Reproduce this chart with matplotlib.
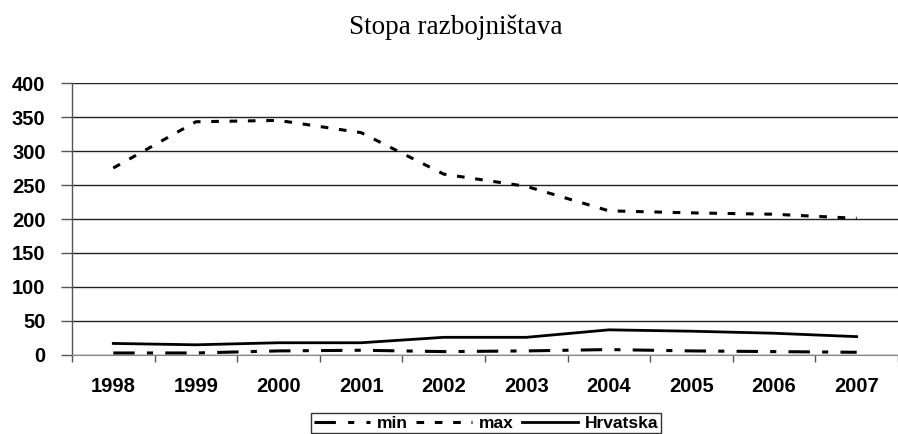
import matplotlib
matplotlib.use("Agg")
import matplotlib.pyplot as plt
from matplotlib.ticker import FixedLocator

years = ["1998", "1999", "2000", "2001", "2002", "2003", "2004", "2005", "2006", "2007"]
min_vals = [3, 3, 6, 7, 5, 6, 8, 6, 5, 4]
max_vals = [275, 343, 345, 327, 266, 248, 212, 209, 207, 201]
hrv_vals = [17, 15, 18, 18, 26, 26, 37, 35, 32, 27]
y_ticks = [0, 50, 100, 150, 200, 250, 300, 350, 400]

fig = plt.figure(figsize=(8.98, 4.34), dpi=100)
ax = fig.add_axes([72/898, (434-355)/434, (898-72)/898, (355-83)/434])

x = list(range(len(years)))
ax.plot(x, min_vals, color="black", lw=2.2, dashes=(7, 4, 2, 4), label="min")
ax.plot(x, max_vals, color="black", lw=2.2, dashes=(2.5, 3.5), label="max")
ax.plot(x, hrv_vals, color="black", lw=2.0, label="Hrvatska")

ax.set_xlim(-0.5, len(years) - 0.5)
ax.set_ylim(0, 400)
ax.set_yticks(y_ticks)
ax.set_yticklabels([str(v) for v in y_ticks], fontfamily="Liberation Sans",
                   fontweight="bold", fontsize=14.5)
ax.set_xticks(x)
ax.set_xticklabels(years, fontfamily="Liberation Sans", fontweight="bold", fontsize=14.5)
ax.xaxis.set_minor_locator(FixedLocator([i - 0.5 for i in range(len(years) + 1)]))
ax.tick_params(axis="x", which="major", length=0, pad=16)
ax.tick_params(axis="x", which="minor", length=5, width=1, color="#555555", direction="out")
ax.tick_params(axis="y", which="major", length=8, width=1, color="#555555", pad=11)

ax.grid(axis="y", color="#222222", lw=1)
ax.set_axisbelow(True)
for s in ["top", "right"]:
    ax.spines[s].set_visible(False)
ax.spines["left"].set_color("#555555")
ax.spines["bottom"].set_color("#888888")
ax.spines["left"].set_linewidth(1)

fig.text(0.507, 0.937, "Stopa razbojništava", ha="center", va="center",
         fontfamily="Liberation Serif", fontsize=19.5)

leg = fig.legend(loc="center", bbox_to_anchor=(486/898, 1 - 423/434), ncol=3,
                 prop={"family": "Liberation Sans", "weight": "bold", "size": 12.5},
                 frameon=True, fancybox=False, edgecolor="black", handlelength=3.2,
                 handletextpad=0.4, columnspacing=0.5, borderpad=0.15, borderaxespad=0)
leg.get_frame().set_linewidth(1)

fig.savefig("out.png", dpi=100)
